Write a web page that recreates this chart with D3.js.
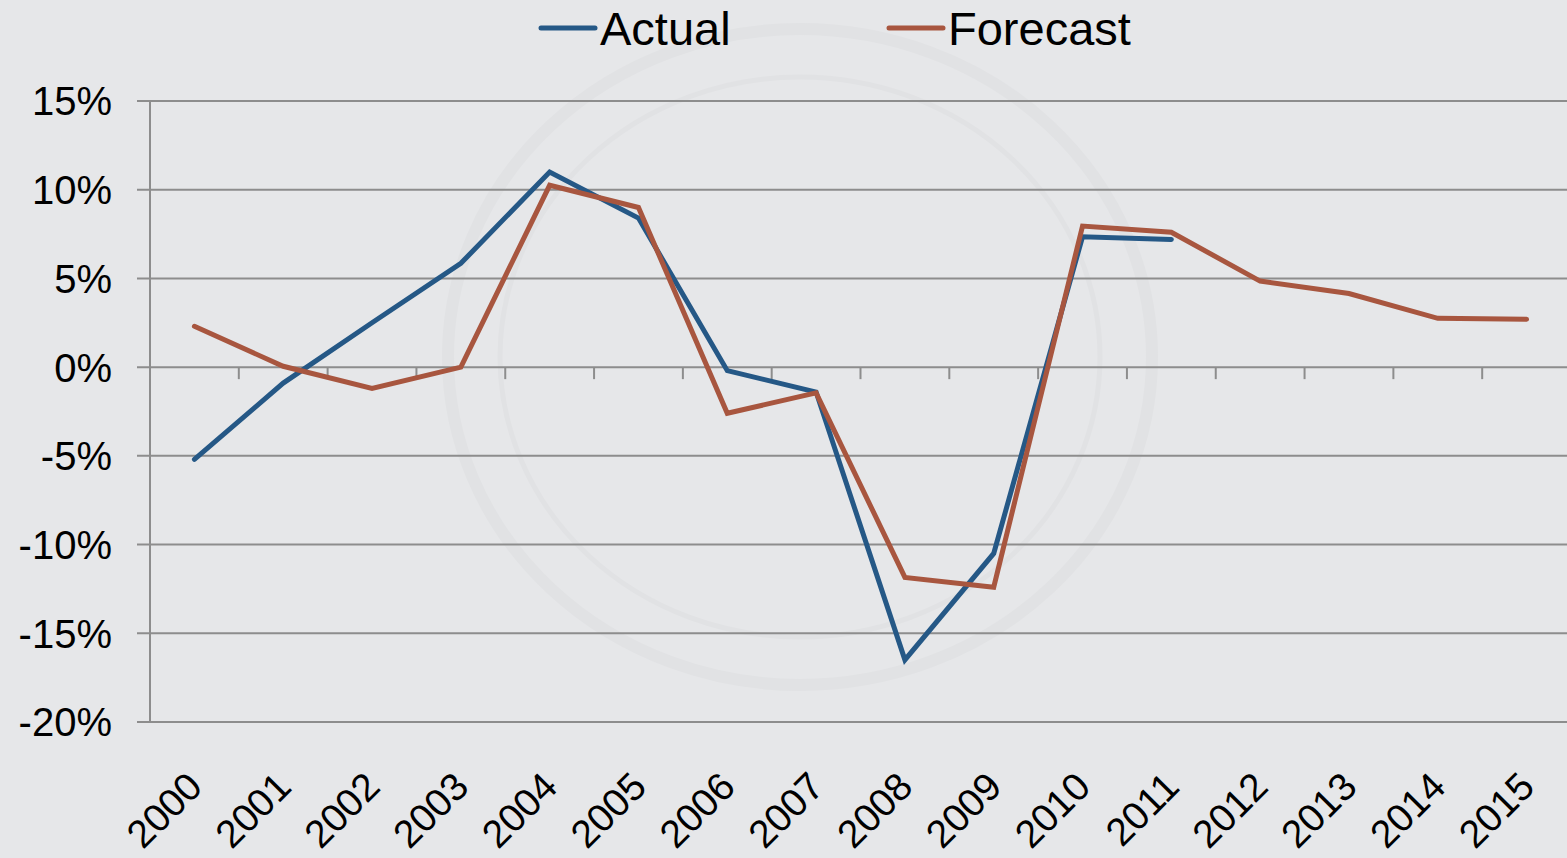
<!DOCTYPE html>
<html><head><meta charset="utf-8">
<script src="https://cdn.jsdelivr.net/npm/d3@7"></script>
<style>
html,body{margin:0;padding:0;background:#e6e7e9;}
svg{display:block;font-family:"Liberation Sans",Arial,sans-serif;}
</style></head>
<body>
<svg id="chart" width="1567" height="858"></svg>
<script>
const years = ["2000","2001","2002","2003","2004","2005","2006","2007","2008","2009","2010","2011","2012","2013","2014","2015"];
const actual = [-5.2, -0.9, 2.5, 5.85, 11.0, 8.4, -0.2, -1.4, -16.5, -10.5, 7.35, 7.2, null, null, null, null];
const forecast = [2.3, 0.05, -1.2, 0.0, 10.25, 9.0, -2.6, -1.45, -11.85, -12.4, 7.95, 7.6, 4.85, 4.15, 2.75, 2.7];
const yTicks = [15, 10, 5, 0, -5, -10, -15, -20];
const seriesNames = ["Actual", "Forecast"];
const colors = ["#255886", "#a8563f"];

const svg = d3.select("#chart");
const W = 1567, H = 858;
const m = {left:150, right:1571, top:101, bottom:722};

svg.append("rect").attr("width",W).attr("height",H).attr("fill","#e6e7e9");

// faint watermark
const wm = svg.append("g").attr("fill","none").attr("stroke","#e1e2e4");
wm.append("ellipse").attr("cx",800).attr("cy",357).attr("rx",352).attr("ry",328).attr("stroke-width",12);
wm.append("ellipse").attr("cx",800).attr("cy",357).attr("rx",300).attr("ry",280).attr("stroke-width",5);

const x = d3.scaleBand().domain(years).range([m.left, m.right]);
const y = d3.scaleLinear().domain([-20, 15]).range([m.bottom, m.top]);
const gridColor = "#8d8d8d";

// gridlines
svg.append("g").selectAll("line").data(yTicks).join("line")
  .attr("x1", m.left-13).attr("x2", W)
  .attr("y1", d=>y(d)).attr("y2", d=>y(d))
  .attr("stroke", gridColor).attr("stroke-width", 2);

// y axis line
svg.append("line").attr("x1",m.left).attr("x2",m.left).attr("y1",m.top).attr("y2",m.bottom)
  .attr("stroke",gridColor).attr("stroke-width",2);

// y labels
svg.append("g").selectAll("text").data(yTicks).join("text")
  .attr("x", 112).attr("y", d=>y(d)).attr("dy","0.36em")
  .attr("text-anchor","end").attr("font-size",40).attr("fill","#000")
  .text(d=>d+"%");

// x ticks on 0 line
const bounds = years.map(d=>x(d)).concat([m.right]);
svg.append("g").selectAll("line").data(bounds).join("line")
  .attr("x1", d=>d).attr("x2", d=>d)
  .attr("y1", y(0)).attr("y2", y(0)+12)
  .attr("stroke", gridColor).attr("stroke-width", 2);

// x labels
svg.append("g").selectAll("text").data(years).join("text")
  .attr("transform", d=>`translate(${x(d)+x.bandwidth()/2+10},${789}) rotate(-45)`)
  .attr("text-anchor","end").attr("font-size",39).attr("fill","#000")
  .text(d=>d);

// lines
const line = d3.line()
  .defined(d=>d.v!==null)
  .x(d=>x(d.k)+x.bandwidth()/2)
  .y(d=>y(d.v));

[actual, forecast].forEach((arr,i)=>{
  svg.append("path")
    .datum(arr.map((v,j)=>({k:years[j], v})))
    .attr("d", line).attr("fill","none")
    .attr("stroke", colors[i]).attr("stroke-width", 5)
    .attr("stroke-linejoin","miter").attr("stroke-linecap","round");
});

// legend
const legendX = [541, 889];
seriesNames.forEach((n,i)=>{
  const g = svg.append("g").attr("transform",`translate(${legendX[i]},28)`);
  g.append("line").attr("x1",0).attr("x2",54).attr("y1",0).attr("y2",0)
    .attr("stroke",colors[i]).attr("stroke-width",5).attr("stroke-linecap","round");
  g.append("text").attr("x",59).attr("y",0).attr("dy","0.36em")
    .attr("font-size",47).attr("fill","#000").text(n);
});
</script>
</body></html>
